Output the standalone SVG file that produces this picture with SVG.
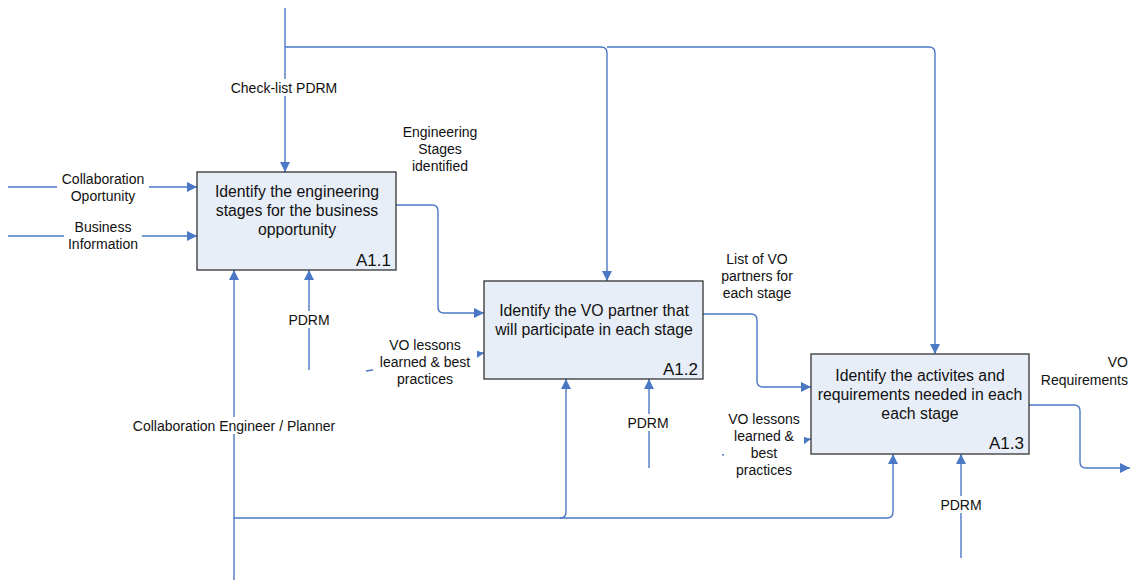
<svg xmlns="http://www.w3.org/2000/svg" width="1130" height="581" viewBox="0 0 1130 581">
  <style>
    .box { fill: #e8eef8; stroke: #333333; stroke-width: 1.3; }
    .title { font-family: "Liberation Sans", Arial, sans-serif; font-size: 15.8px; fill: #111111; text-anchor: middle; }
    .code { font-family: "Liberation Sans", Arial, sans-serif; font-size: 17px; fill: #111111; text-anchor: end; }
    .lbl { font-family: "Liberation Sans", Arial, sans-serif; font-size: 14px; fill: #111111; text-anchor: middle; }
    .lbl.right { text-anchor: end; }
    .wire { fill: none; stroke: #4a78c4; stroke-width: 1.4; }
    .bg { fill: #ffffff; }
  </style>
  <defs>
    <marker id="arrow" viewBox="0 0 10 10" refX="10" refY="5" markerWidth="10" markerHeight="10" markerUnits="userSpaceOnUse" orient="auto">
      <path d="M0,0 L10,5 L0,10 Z" fill="#4a78c4"/>
    </marker>
  </defs>
  <rect width="1130" height="581" fill="#ffffff"/>

  <g id="connectors">
    <!-- controls from the top -->
    <path class="wire" d="M285,8 V172" marker-end="url(#arrow)"/>
    <path class="wire" d="M285,47 H601 Q607,47 607,53 V281" marker-end="url(#arrow)"/>
    <path class="wire" d="M607,47 H929 Q935,47 935,53 V354" marker-end="url(#arrow)"/>
    <!-- inputs into A1.1 -->
    <path class="wire" d="M8,187 H197" marker-end="url(#arrow)"/>
    <path class="wire" d="M8,236 H197" marker-end="url(#arrow)"/>
    <!-- A1.1 -> A1.2 -->
    <path class="wire" d="M396,205 H432 Q438,205 438,211 V307 Q438,313 444,313 H484" marker-end="url(#arrow)"/>
    <!-- A1.2 -> A1.3 -->
    <path class="wire" d="M703,314 H751 Q757,314 757,320 V381 Q757,387 763,387 H811" marker-end="url(#arrow)"/>
    <!-- A1.3 output -->
    <path class="wire" d="M1029,405 H1074 Q1080,405 1080,411 V462 Q1080,468 1086,468 H1130" marker-end="url(#arrow)"/>
    <!-- mechanism -->
    <path class="wire" d="M234,580 V270" marker-end="url(#arrow)"/>
    <path class="wire" d="M234,518 H560 Q566,518 566,512 V379" marker-end="url(#arrow)"/>
    <path class="wire" d="M560,518 H887 Q893,518 893,512 V454" marker-end="url(#arrow)"/>
    <!-- PDRM controls from below -->
    <path class="wire" d="M309,370 V270" marker-end="url(#arrow)"/>
    <path class="wire" d="M649,468 V379" marker-end="url(#arrow)"/>
    <path class="wire" d="M961,558 V454" marker-end="url(#arrow)"/>
    <!-- lessons learned inputs -->
    <path class="wire" d="M366,371 L484,353" marker-end="url(#arrow)"/>
    <path class="wire" d="M722,455 L811,439" marker-end="url(#arrow)"/>
  </g>

  <g id="labels">
    <rect class="bg" x="225" y="79" width="119" height="17"/>
    <text class="lbl" x="284" y="93">Check-list PDRM</text>

    <rect class="bg" x="57" y="170" width="92" height="33"/>
    <text class="lbl" x="103" y="184">Collaboration</text>
    <text class="lbl" x="103" y="201">Oportunity</text>

    <rect class="bg" x="64" y="219" width="78" height="33"/>
    <text class="lbl" x="103" y="232">Business</text>
    <text class="lbl" x="103" y="249">Information</text>

    <text class="lbl" x="440" y="137">Engineering</text>
    <text class="lbl" x="440" y="154">Stages</text>
    <text class="lbl" x="440" y="171">identified</text>

    <text class="lbl" x="757" y="264">List of VO</text>
    <text class="lbl" x="757" y="281">partners for</text>
    <text class="lbl" x="757" y="298">each stage</text>

    <text class="lbl right" x="1128" y="367">VO</text>
    <text class="lbl right" x="1128" y="385">Requirements</text>

    <rect class="bg" x="282" y="311" width="54" height="17"/>
    <text class="lbl" x="309" y="325">PDRM</text>

    <rect class="bg" x="373" y="336" width="104" height="51"/>
    <text class="lbl" x="425" y="350">VO lessons</text>
    <text class="lbl" x="425" y="367">learned &amp; best</text>
    <text class="lbl" x="425" y="384">practices</text>

    <rect class="bg" x="621" y="414" width="54" height="17"/>
    <text class="lbl" x="648" y="428">PDRM</text>

    <rect class="bg" x="724" y="410" width="80" height="67"/>
    <text class="lbl" x="764" y="424">VO lessons</text>
    <text class="lbl" x="764" y="441">learned &amp;</text>
    <text class="lbl" x="764" y="458">best</text>
    <text class="lbl" x="764" y="475">practices</text>

    <rect class="bg" x="130" y="417" width="208" height="17"/>
    <text class="lbl" x="234" y="431">Collaboration Engineer / Planner</text>

    <rect class="bg" x="934" y="496" width="54" height="17"/>
    <text class="lbl" x="961" y="510">PDRM</text>
  </g>

  <g id="A1.1">
    <rect class="box" x="197" y="172" width="199" height="98"/>
    <text class="title" x="297" y="197">Identify the engineering</text>
    <text class="title" x="297" y="216">stages for the business</text>
    <text class="title" x="297" y="235">opportunity</text>
    <text class="code" x="391" y="266">A1.1</text>
  </g>

  <g id="A1.2">
    <rect class="box" x="484" y="281" width="219" height="98"/>
    <text class="title" x="594" y="316">Identify the VO partner that</text>
    <text class="title" x="594" y="335">will participate in each stage</text>
    <text class="code" x="698" y="375">A1.2</text>
  </g>

  <g id="A1.3">
    <rect class="box" x="811" y="354" width="218" height="100"/>
    <text class="title" x="920" y="381">Identify the activites and</text>
    <text class="title" x="920" y="400">requirements needed in each</text>
    <text class="title" x="920" y="419">each stage</text>
    <text class="code" x="1024" y="449">A1.3</text>
  </g>
</svg>
